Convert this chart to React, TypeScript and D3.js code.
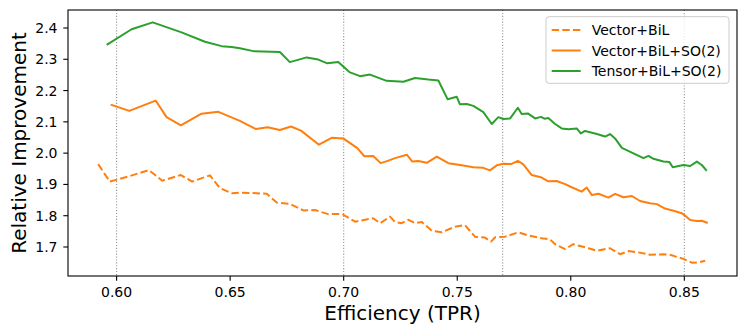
import React from "react";
import * as d3 from "d3";

const xTicks = [0.6, 0.65, 0.7, 0.75, 0.8, 0.85];
const yTicks = [1.7, 1.8, 1.9, 2.0, 2.1, 2.2, 2.3, 2.4];
const vLines = [0.6, 0.7, 0.77, 0.85];

const seriesNames = ["Vector+BiL", "Vector+BiL+SO(2)", "Tensor+BiL+SO(2)"];

const dashedX = [0.5919, 0.597, 0.6051, 0.6142, 0.6201, 0.6283, 0.6333, 0.6411, 0.6455, 0.6507, 0.6543, 0.6617, 0.6661, 0.6705, 0.6763, 0.6822, 0.6874, 0.6932, 0.6991, 0.705, 0.713, 0.716, 0.7204, 0.7226, 0.7255, 0.7285, 0.7314, 0.7344, 0.7388, 0.7432, 0.749, 0.7534, 0.7578, 0.7622, 0.7649, 0.7667, 0.7711, 0.7769, 0.7813, 0.7872, 0.7909, 0.7931, 0.7975, 0.8011, 0.8041, 0.8078, 0.8115, 0.8173, 0.8217, 0.8254, 0.8305, 0.8349, 0.8408, 0.8437, 0.8496, 0.8533, 0.8562, 0.8592];
const dashedY = [1.965, 1.909, 1.925, 1.946, 1.912, 1.93, 1.909, 1.929, 1.888, 1.872, 1.874, 1.872, 1.87, 1.842, 1.838, 1.817, 1.818, 1.805, 1.806, 1.781, 1.792, 1.776, 1.797, 1.78, 1.776, 1.787, 1.776, 1.78, 1.752, 1.747, 1.765, 1.77, 1.733, 1.73, 1.717, 1.731, 1.733, 1.747, 1.737, 1.728, 1.724, 1.709, 1.693, 1.709, 1.703, 1.696, 1.688, 1.696, 1.677, 1.687, 1.682, 1.675, 1.677, 1.675, 1.662, 1.65, 1.651, 1.656];

const solidX = [0.5978, 0.6056, 0.6172, 0.622, 0.6283, 0.6374, 0.6448, 0.6543, 0.6614, 0.6665, 0.6719, 0.6768, 0.6812, 0.6891, 0.6947, 0.6998, 0.706, 0.7091, 0.713, 0.7163, 0.7197, 0.7226, 0.7278, 0.7302, 0.7329, 0.7366, 0.741, 0.7461, 0.752, 0.7571, 0.7615, 0.7644, 0.7674, 0.7703, 0.7737, 0.7767, 0.7791, 0.7828, 0.7872, 0.7901, 0.7938, 0.7975, 0.8004, 0.8048, 0.807, 0.8093, 0.8122, 0.8166, 0.8195, 0.8232, 0.8269, 0.8305, 0.8349, 0.8379, 0.8415, 0.8452, 0.8489, 0.85, 0.8526, 0.8555, 0.8577, 0.8599];
const solidY = [2.154, 2.135, 2.168, 2.115, 2.089, 2.126, 2.132, 2.103, 2.077, 2.083, 2.074, 2.085, 2.072, 2.027, 2.049, 2.047, 2.016, 1.99, 1.991, 1.968, 1.976, 1.984, 1.995, 1.973, 1.975, 1.969, 1.989, 1.968, 1.961, 1.955, 1.953, 1.945, 1.961, 1.966, 1.965, 1.975, 1.964, 1.93, 1.922, 1.91, 1.911, 1.901, 1.891, 1.877, 1.89, 1.866, 1.87, 1.858, 1.87, 1.859, 1.863, 1.847, 1.84, 1.837, 1.823, 1.816, 1.808, 1.802, 1.786, 1.783, 1.784, 1.778];

const tensorX = [0.596, 0.6066, 0.6159, 0.6286, 0.6389, 0.6463, 0.6507, 0.6543, 0.6602, 0.6719, 0.6763, 0.6837, 0.6888, 0.6928, 0.6976, 0.7025, 0.7072, 0.7116, 0.7189, 0.7263, 0.7314, 0.7373, 0.7417, 0.7458, 0.7498, 0.7512, 0.7542, 0.7571, 0.7615, 0.7652, 0.7681, 0.7703, 0.7733, 0.7767, 0.7784, 0.7811, 0.7843, 0.7869, 0.7884, 0.7901, 0.7931, 0.796, 0.799, 0.8026, 0.8044, 0.8063, 0.8115, 0.8151, 0.8173, 0.8195, 0.8225, 0.8276, 0.832, 0.8342, 0.8364, 0.8408, 0.8434, 0.8449, 0.8496, 0.8526, 0.8555, 0.8577, 0.8596];
const tensorY = [2.348, 2.396, 2.418, 2.386, 2.356, 2.342, 2.339, 2.335, 2.326, 2.323, 2.291, 2.306, 2.299, 2.287, 2.291, 2.259, 2.246, 2.251, 2.231, 2.228, 2.24, 2.235, 2.232, 2.172, 2.18, 2.156, 2.157, 2.151, 2.131, 2.093, 2.115, 2.109, 2.111, 2.145, 2.125, 2.127, 2.111, 2.116, 2.11, 2.112, 2.093, 2.079, 2.076, 2.079, 2.063, 2.071, 2.061, 2.053, 2.061, 2.047, 2.017, 1.999, 1.984, 1.991, 1.982, 1.973, 1.972, 1.955, 1.962, 1.959, 1.973, 1.962, 1.946];

const W = 747;
const H = 335;
const L = 68, R = 737, T = 10, B = 276;
const FONT = "DejaVu Sans, Liberation Sans, sans-serif";

export default function App() {
  const x = d3.scaleLinear().domain([0.5786, 0.8732]).range([L, R]);
  const y = d3.scaleLinear().domain([1.6073, 2.4575]).range([B, T]);
  const line = d3
    .line<[number, number]>()
    .x((d) => x(d[0]))
    .y((d) => y(d[1]));
  const zip = (a: number[], b: number[]) => a.map((v, i) => [v, b[i]] as [number, number]);

  const series = [
    { name: seriesNames[0], data: zip(dashedX, dashedY), color: "#ff7f0e", dash: "7.4,3.2" },
    { name: seriesNames[1], data: zip(solidX, solidY), color: "#ff7f0e", dash: undefined },
    { name: seriesNames[2], data: zip(tensorX, tensorY), color: "#2ca02c", dash: undefined },
  ];

  const legX = 546, legY = 16.7, legW = 183, legH = 66.6;
  const rowYs = [30, 50.5, 71];

  return (
    <svg width={W} height={H} style={{ position: "fixed", left: 0, top: 0, background: "#fff" }} fontFamily={FONT}>
      <rect x={0} y={0} width={W} height={H} fill="#fff" />
      {vLines.map((v) => (
        <line key={v} x1={x(v)} x2={x(v)} y1={T} y2={B} stroke="#808080" strokeOpacity={0.85} strokeWidth={1.1} strokeDasharray="1.1,1.8" />
      ))}
      <g clipPath="url(#clip)">
        {series.map((s) => (
          <path key={s.name} d={line(s.data) || ""} fill="none" stroke={s.color} strokeWidth={2} strokeDasharray={s.dash} strokeLinejoin="round" strokeLinecap={s.dash ? "butt" : "square"} />
        ))}
      </g>
      <defs>
        <clipPath id="clip">
          <rect x={L} y={T} width={R - L} height={B - T} />
        </clipPath>
      </defs>
      <rect x={L} y={T} width={R - L} height={B - T} fill="none" stroke="#000" strokeWidth={1.1} />
      {xTicks.map((t) => (
        <g key={t}>
          <line x1={x(t)} x2={x(t)} y1={B} y2={B + 4.7} stroke="#000" strokeWidth={1.1} />
          <text x={x(t)} y={297} fontSize={14} textAnchor="middle" fill="#000">{t.toFixed(2)}</text>
        </g>
      ))}
      {yTicks.map((t) => (
        <g key={t}>
          <line x1={L - 4.7} x2={L} y1={y(t)} y2={y(t)} stroke="#000" strokeWidth={1.1} />
          <text x={57.5} y={y(t)} dy="0.36em" fontSize={14} textAnchor="end" fill="#000">{t.toFixed(1)}</text>
        </g>
      ))}
      <text x={(L + R) / 2} y={320} fontSize={20} textAnchor="middle" fill="#000">Efficiency (TPR)</text>
      <text transform={`translate(26,${(T + B) / 2}) rotate(-90)`} fontSize={20} textAnchor="middle" fill="#000">Relative Improvement</text>
      <rect x={legX} y={legY} width={legW} height={legH} rx={3} fill="#fff" fillOpacity={0.8} stroke="#cccccc" strokeWidth={1} />
      {series.map((s, i) => (
        <g key={s.name}>
          <line x1={551.7} x2={580.7} y1={rowYs[i]} y2={rowYs[i]} stroke={s.color} strokeWidth={2} strokeDasharray={s.dash} />
          <text x={591.7} y={rowYs[i]} dy="0.36em" fontSize={14} fill="#000">{s.name}</text>
        </g>
      ))}
    </svg>
  );
}
